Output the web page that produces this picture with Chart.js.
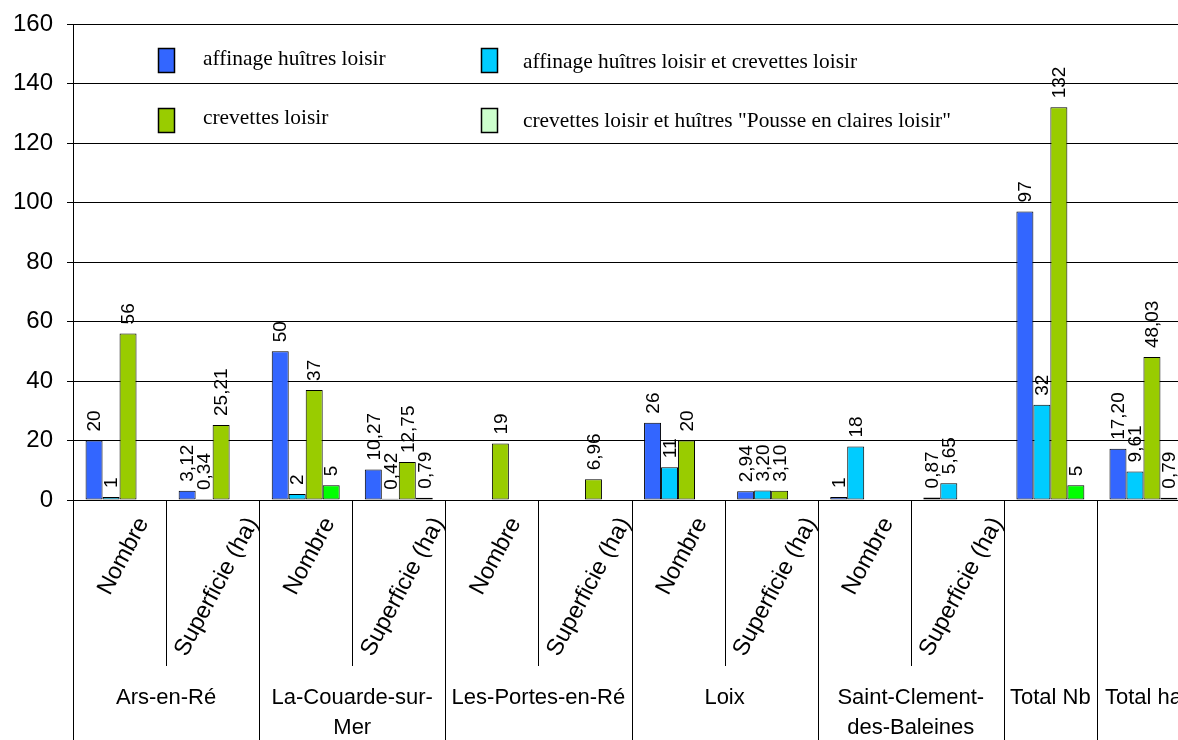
<!DOCTYPE html>
<html>
<head>
<meta charset="utf-8">
<script src="https://cdn.jsdelivr.net/npm/chart.js@4.4.1/dist/chart.umd.min.js"></script>
<style>
  html, body { margin: 0; padding: 0; background: #fff; overflow: hidden; width: 1178px; height: 740px; }
  #wrap { position: absolute; left: 0; top: 0; width: 1190px; height: 740px; }
</style>
</head>
<body>
<div id="wrap"><canvas id="c" width="1190" height="740"></canvas></div>
<script>
// ---- data ----
const subLabels = ['Nombre', 'Superficie (ha)', 'Nombre', 'Superficie (ha)', 'Nombre', 'Superficie (ha)',
                   'Nombre', 'Superficie (ha)', 'Nombre', 'Superficie (ha)', '', ''];
const groupLabels = [['Ars-en-Ré'], ['La-Couarde-sur-', 'Mer'], ['Les-Portes-en-Ré'], ['Loix'],
                     ['Saint-Clement-', 'des-Baleines'], ['Total Nb'], ['Total ha']];
const groupSpans = [2, 2, 2, 2, 2, 1, 1];
const valueDecimals = [0, 2, 0, 2, 0, 2, 0, 2, 0, 2, 0, 2];

const seriesNames = ['affinage huîtres loisir', 'affinage huîtres loisir et crevettes loisir',
                     'crevettes loisir', 'crevettes loisir et huîtres "Pousse en claires loisir"'];
const affinageHuitres     = [20, 3.12, 50, 10.27, null, null, 26, 2.94, 1, 0.87, 97, 17.20];
const affinageEtCrevettes = [1, 0.34, 2, 0.42, null, null, 11, 3.20, 18, 5.65, 32, 9.61];
const crevettes           = [56, 25.21, 37, 12.75, 19, 6.96, 20, 3.10, null, null, 132, 48.03];
const crevettesEtPousse   = [null, null, 5, 0.79, null, null, null, null, null, null, 5, 0.79];

const barColors = ['#3366FF', '#00CCFF', '#99CC00', '#00FF00'];
const legendColors = ['#3366FF', '#00CCFF', '#99CC00', '#CCFFCC'];

const yMin = 0, yMax = 160, yStep = 20;

// ---- plugins ----
const valueLabels = {
  id: 'valueLabels',
  afterDatasetsDraw(chart) {
    const ctx = chart.ctx;
    ctx.save();
    ctx.font = '19px "Liberation Sans", Arial, sans-serif';
    ctx.fillStyle = '#000';
    ctx.textAlign = 'left';
    ctx.textBaseline = 'middle';
    chart.data.datasets.forEach((ds, di) => {
      const meta = chart.getDatasetMeta(di);
      meta.data.forEach((bar, i) => {
        const v = ds.data[i];
        if (v === null || v === undefined) return;
        const txt = v.toFixed(valueDecimals[i]).replace('.', ',');
        ctx.save();
        ctx.translate(bar.x + 1, bar.y - 9);
        ctx.rotate(-Math.PI / 2);
        ctx.fillText(txt, 0, 0);
        ctx.restore();
      });
    });
    ctx.restore();
  }
};

const customLegend = {
  id: 'customLegend',
  afterDraw(chart) {
    const ctx = chart.ctx;
    const pos = [
      { sx: 158, sy: 48, tx: 203, ty: 59 },
      { sx: 481, sy: 48, tx: 523, ty: 62 },
      { sx: 158, sy: 108, tx: 203, ty: 118 },
      { sx: 481, sy: 108, tx: 523, ty: 121 }
    ];
    ctx.save();
    ctx.font = '21.4px "Liberation Serif", "Times New Roman", serif';
    ctx.textBaseline = 'middle';
    ctx.textAlign = 'left';
    seriesNames.forEach((name, i) => {
      const p = pos[i];
      ctx.fillStyle = legendColors[i];
      ctx.fillRect(p.sx, p.sy, 16, 24);
      ctx.strokeStyle = '#000';
      ctx.lineWidth = 1.5;
      ctx.strokeRect(p.sx + 0.5, p.sy + 0.5, 16, 24);
      ctx.fillStyle = '#000';
      ctx.fillText(name, p.tx, p.ty);
    });
    ctx.restore();
  }
};

const multiLevelAxis = {
  id: 'multiLevelAxis',
  afterDraw(chart) {
    const ctx = chart.ctx;
    const xs = chart.scales.x;
    const area = chart.chartArea;
    const n = subLabels.length;
    const w = xs.getPixelForValue(1) - xs.getPixelForValue(0);
    const edge = (i) => (i < n ? xs.getPixelForValue(i) - w / 2 : xs.getPixelForValue(n - 1) + w / 2);
    const groupStarts = new Set();
    let acc = 0;
    groupSpans.forEach(s => { groupStarts.add(acc); acc += s; });
    groupStarts.add(n);

    ctx.save();
    ctx.strokeStyle = '#000';
    ctx.lineWidth = 1;
    for (let i = 0; i <= n; i++) {
      const x = Math.round(edge(i)) + 0.5;
      ctx.beginPath();
      ctx.moveTo(x, area.bottom);
      ctx.lineTo(x, groupStarts.has(i) ? 740 : 666);
      ctx.stroke();
    }

    // rotated sub labels
    const fs = 23.5;
    ctx.font = fs + 'px "Liberation Sans", Arial, sans-serif';
    ctx.fillStyle = '#000';
    ctx.textAlign = 'center';
    ctx.textBaseline = 'middle';
    const th = 62 * Math.PI / 180;
    for (let i = 0; i < n; i++) {
      const t = subLabels[i];
      if (!t) continue;
      const tw = ctx.measureText(t).width;
      const bh = tw * Math.sin(th) + fs * 0.8 * Math.cos(th);
      const cx = xs.getPixelForValue(i) + 4;
      const cy = 515 + bh / 2;
      ctx.save();
      ctx.translate(cx, cy);
      ctx.rotate(-th);
      ctx.fillText(t, 0, 0);
      ctx.restore();
    }

    // group labels
    ctx.font = '22px "Liberation Sans", Arial, sans-serif';
    let start = 0;
    groupSpans.forEach((s, g) => {
      const cx = (edge(start) + edge(start + s)) / 2;
      groupLabels[g].forEach((line, li) => {
        ctx.fillText(line, cx, 698 + li * 30);
      });
      start += s;
    });
    ctx.restore();
  }
};

// ---- chart ----
const datasets = [affinageHuitres, affinageEtCrevettes, crevettes, crevettesEtPousse].map((d, i) => ({
  label: seriesNames[i],
  data: d,
  backgroundColor: barColors[i],
  borderColor: '#000',
  borderWidth: 1,
  borderSkipped: false,
  categoryPercentage: 0.73,
  barPercentage: 1.0
}));

new Chart(document.getElementById('c'), {
  type: 'bar',
  data: { labels: subLabels.map((s, i) => s || ('c' + i)), datasets },
  plugins: [valueLabels, customLegend, multiLevelAxis],
  options: {
    responsive: false,
    animation: false,
    devicePixelRatio: 1,
    layout: { padding: { top: 24, right: 0, bottom: 0, left: 0 } },
    plugins: { legend: { display: false }, tooltip: { enabled: false } },
    scales: {
      x: {
        ticks: { display: false },
        grid: { display: false },
        border: { display: true, color: '#000', width: 1 },
        afterFit: (s) => { s.height = 240; s.paddingLeft = 0; s.paddingRight = 0; }
      },
      y: {
        min: yMin, max: yMax,
        ticks: {
          stepSize: yStep,
          color: '#000',
          padding: 14,
          font: { family: '"Liberation Sans", Arial, sans-serif', size: 24 }
        },
        grid: { color: '#000', lineWidth: 1, tickLength: 6, drawTicks: true },
        border: { display: true, color: '#000', width: 1 },
        afterFit: (s) => { s.width = 73; s.paddingTop = 0; s.paddingBottom = 0; }
      }
    }
  }
});
</script>
</body>
</html>
